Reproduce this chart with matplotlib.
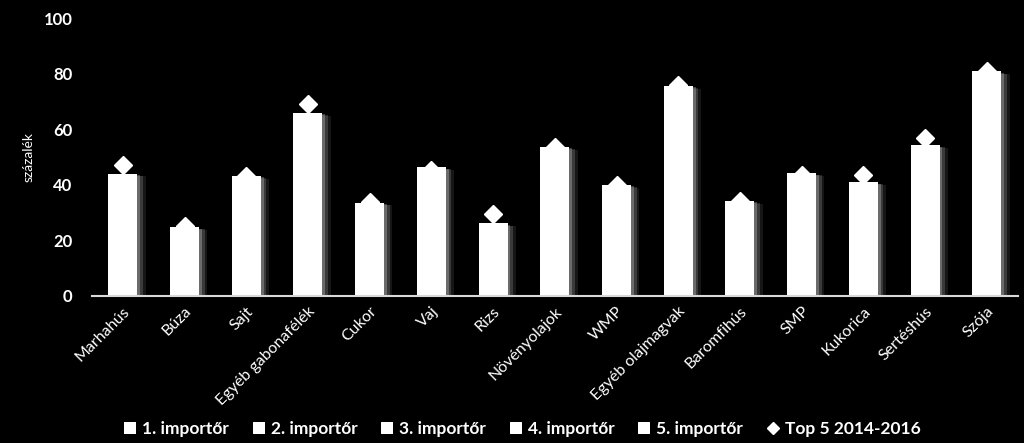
import matplotlib
matplotlib.use("Agg")
import matplotlib.pyplot as plt
import matplotlib.patheffects as pe
import numpy as np

plt.rcParams['font.family'] = ['Lato', 'DejaVu Sans']

termekek = ["Marhahús", "Búza", "Sajt", "Egyéb gabonafélék", "Cukor", "Vaj", "Rizs",
            "Növényolajok", "WMP", "Egyéb olajmagvak", "Baromfihús", "SMP",
            "Kukorica", "Sertéshús", "Szója"]

# az egyes importorok reszesedese (a kepen minden szelet feher, csak az osszeg latszik)
imp1 = [15, 9, 14, 22, 11, 16, 9, 18, 14, 34, 11, 15, 14, 17, 50]
imp2 = [10, 6, 10, 16, 8, 11, 6, 13, 9, 17, 8, 11, 10, 13, 18]
imp3 = [8, 4, 8, 12, 6, 8, 5, 10, 7, 11, 6, 8, 7, 10, 6]
imp4 = [6, 3, 6, 9, 5, 6, 3.5, 7, 5.5, 8, 5, 6, 5.5, 8, 4]
imp5 = [5, 2.7, 5.2, 6.9, 3.6, 5.3, 2.6, 5.6, 4.4, 5.6, 4.2, 4.2, 4.4, 6.2, 2.8]
top5_2014_2016 = [47.1, 25, 43, 69.2, 33.8, 45.5, 29.4, 53.6, 40, 76, 34, 43.5, 43.5, 56.9, 80.8]

cimkek = ["1. importőr", "2. importőr", "3. importőr", "4. importőr", "5. importőr"]

fig = plt.figure(figsize=(10.24, 4.43), dpi=100, facecolor="black")
ax = fig.add_axes([0.0898, 0.332, 0.904, 0.627])
ax.set_facecolor("black")

x = np.arange(len(termekek))
osszes = np.sum([imp1, imp2, imp3, imp4, imp5], axis=0)

# arnyek az egesz oszlop mogott (csak az arnyek rajzolodik ki)
arnyek = [pe.SimplePatchShadow(offset=(6, -2), shadow_rgbFace="#bbbbbb", alpha=0.12),
          pe.SimplePatchShadow(offset=(4, -1.5), shadow_rgbFace="#cccccc", alpha=0.2),
          pe.SimplePatchShadow(offset=(2, -1), shadow_rgbFace="#dddddd", alpha=0.3)]
hatter = ax.bar(x, osszes, width=0.47, color="white", zorder=1)
for p in hatter:
    p.set_path_effects(arnyek)

alap = np.zeros(len(termekek))
oszlopok = []
for adat, nev in zip([imp1, imp2, imp3, imp4, imp5], cimkek):
    b = ax.bar(x, adat, bottom=alap, width=0.47, color="white", label=nev, zorder=2)
    oszlopok.append(b)
    alap = alap + np.array(adat)

pont, = ax.plot(x, top5_2014_2016, linestyle="none", marker="D", markersize=9,
                color="white", label="Top 5 2014-2016", zorder=3)

ax.set_xlim(-0.5, len(termekek) - 0.5)
ax.set_ylim(0, 100)
ax.set_yticks(range(0, 101, 20))
ax.tick_params(axis="y", length=0, colors="white", labelsize=12, pad=14)
for t in ax.get_yticklabels():
    t.set_fontweight("bold")
ax.set_xticks(x)
ax.set_xticklabels(termekek, rotation=45, ha="right", rotation_mode="anchor",
                   color="white", fontsize=11.5)
ax.tick_params(axis="x", length=0, pad=6)

for s in ["top", "right", "left"]:
    ax.spines[s].set_visible(False)
ax.spines["bottom"].set_color("#d9d9d9")
ax.spines["bottom"].set_linewidth(1.5)

ax.set_ylabel("százalék", color="white", fontsize=10)
ax.yaxis.set_label_coords(-0.062, 0.5)

leg = ax.legend(oszlopok + [pont], cimkek + ["Top 5 2014-2016"],
                loc="center", bbox_to_anchor=(0.465, -0.48), ncol=6, frameon=False,
                handlelength=0.7, handleheight=0.7, handletextpad=0.35,
                columnspacing=1.35, fontsize=12.5, markerscale=0.7)
for t in leg.get_texts():
    t.set_color("white")
    t.set_fontweight("bold")

fig.savefig("out.png", dpi=100, facecolor="black")
